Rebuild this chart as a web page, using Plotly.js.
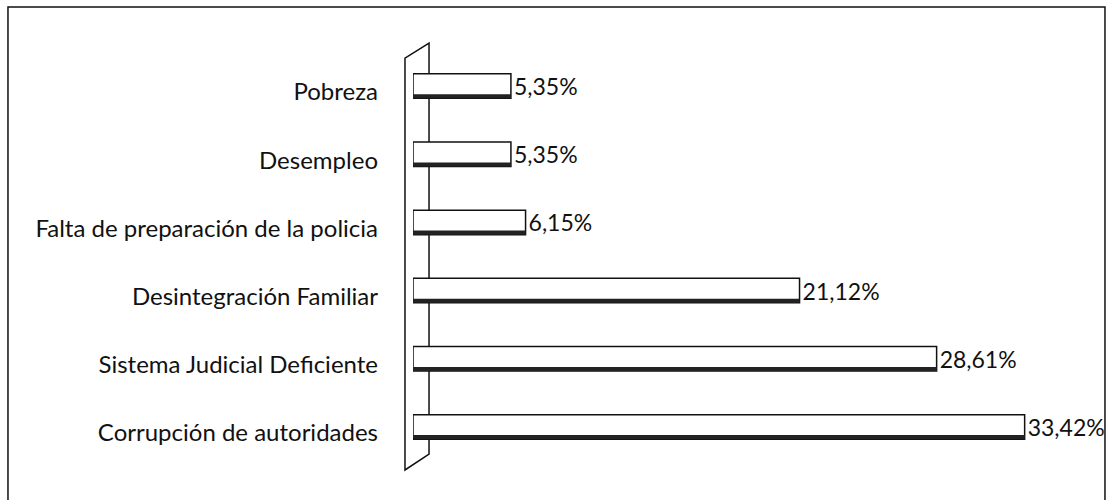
<!DOCTYPE html>
<html>
<head>
<meta charset="utf-8">
<script src="https://cdn.plot.ly/plotly-3.0.1.min.js"></script>
<style>
  body { margin: 0; background: #fff; }
  #plot { width: 1112px; height: 500px; }
</style>
</head>
<body>
<div id="plot"></div>
<script>
// categories, bottom to top as in the chart
let causas = [
  "Corrupción de autoridades",
  "Sistema Judicial Deficiente",
  "Desintegración Familiar",
  "Falta de preparación de la policia",
  "Desempleo",
  "Pobreza"
];
let porcentajes = [33.42, 28.61, 21.12, 6.15, 5.35, 5.35];

// white cylinder body
let trace1 = {
  x: porcentajes,
  y: causas,
  type: "bar",
  orientation: "h",
  width: 0.36,
  marker: { color: "#ffffff", line: { color: "#111111", width: 1.5 } },
  texttemplate: "%{x:.2f}%",
  textposition: "outside",
  constraintext: "none",
  textfont: { family: "Lato, sans-serif", size: 23, color: "#111111" },
  cliponaxis: false,
  hoverinfo: "none"
};

// dark shadow along the underside of each bar
let trace2 = {
  x: porcentajes,
  y: causas,
  type: "bar",
  orientation: "h",
  width: 0.06,
  offset: -0.18,
  marker: { color: "#222222" },
  hoverinfo: "none"
};

let data = [trace1, trace2];

let layout = {
  width: 1112,
  height: 500,
  showlegend: false,
  barmode: "overlay",
  separators: ",.",
  paper_bgcolor: "#ffffff",
  plot_bgcolor: "#ffffff",
  font: { family: "Lato, sans-serif", size: 24, color: "#111111" },
  margin: { l: 413, r: 20, t: 52, b: 39, pad: 0 },
  xaxis: {
    range: [0, 37.1],
    visible: false,
    fixedrange: true
  },
  yaxis: {
    showgrid: false,
    zeroline: false,
    showline: false,
    ticks: "",
    ticklabelstandoff: 34,
    ticklabelshift: 6,
    tickfont: { family: "Lato, sans-serif", size: 24, color: "#111111" },
    fixedrange: true
  },
  shapes: [
    // outer frame
    {
      type: "rect", xref: "paper", yref: "paper",
      x0: -0.5965, x1: 1.0191, y0: -0.11, y1: 1.110,
      line: { color: "#111111", width: 1.5 }, layer: "below"
    },
    // 3D wall of the category axis
    {
      type: "path", xref: "paper", yref: "paper",
      path: "M -0.0118 -0.022 L -0.0118 0.985 L 0.0236 1.022 L 0.0236 0.017 Z",
      line: { color: "#111111", width: 1.5 }, layer: "below"
    }
  ]
};

Plotly.newPlot("plot", data, layout, { displayModeBar: false, staticPlot: true });
</script>
</body>
</html>
